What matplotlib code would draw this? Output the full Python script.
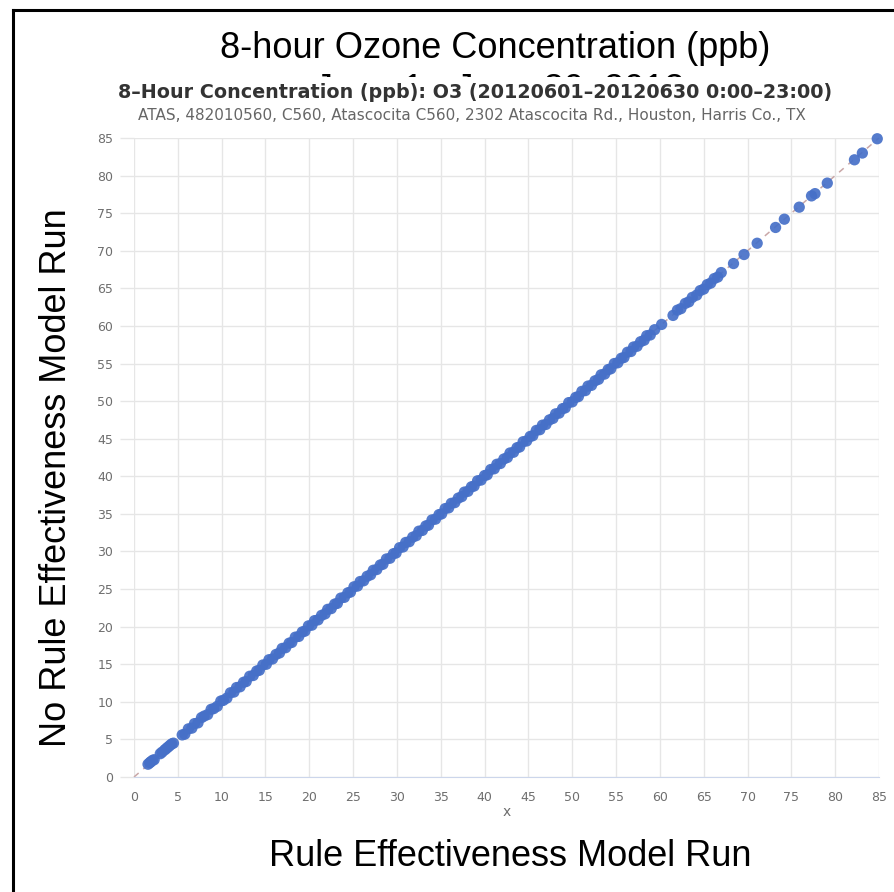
import matplotlib
matplotlib.use("Agg")
import matplotlib.pyplot as plt
from matplotlib.lines import Line2D
from matplotlib.patches import Rectangle

W, H = 895, 892

# chart values
title = "8-hour Ozone Concentration (ppb)"
hidden_line = "June 1 - June 30, 2012"
inner_title = "8\u2013Hour Concentration (ppb): O3 (20120601\u201320120630 0:00\u201323:00)"
inner_subtitle = "ATAS, 482010560, C560, Atascocita C560, 2302 Atascocita Rd., Houston, Harris Co., TX"
x_label = "Rule Effectiveness Model Run"
y_label = "No Rule Effectiveness Model Run"
ticks = list(range(0, 90, 5))

x_low = [1.6, 1.8, 1.9, 2.1, 2.3, 3.0, 3.2, 3.5, 3.7, 3.9, 4.1, 4.3, 4.5]
y_low = [1.7, 1.9, 2.0, 2.2, 2.3, 3.1, 3.3, 3.6, 3.8, 4.0, 4.2, 4.4, 4.5]

x_mid = [5.5, 5.8, 6.2, 6.6, 6.9, 7.3, 7.7, 8.0, 8.4, 8.8, 9.1, 9.5, 9.9, 10.2,
         10.6, 11.0, 11.4, 11.7, 12.1, 12.5, 12.8, 13.2, 13.6, 14.0, 14.3, 14.7,
         15.1, 15.4, 15.8, 16.2, 16.6, 16.9, 17.3, 17.7, 18.0, 18.4, 18.8, 19.2,
         19.5, 19.9, 20.3, 20.6, 21.0, 21.4, 21.8, 22.1, 22.5, 22.9, 23.2, 23.6,
         24.0, 24.4, 24.7, 25.1, 25.5, 25.8, 26.2, 26.6, 27.0, 27.3, 27.7, 28.1,
         28.4, 28.8, 29.2, 29.6, 29.9, 30.3, 30.7, 31.0, 31.4, 31.8, 32.2, 32.5,
         32.9, 33.3, 33.6, 34.0, 34.4, 34.8, 35.1, 35.5, 35.9, 36.2, 36.6, 37.0,
         37.4, 37.7, 38.1, 38.5, 38.8, 39.2, 39.6, 40.0, 40.3, 40.7, 41.1, 41.4,
         41.8, 42.2, 42.6, 42.9, 43.3, 43.7, 44.0, 44.4, 44.8, 45.2, 45.5, 45.9,
         46.3, 46.6, 47.0, 47.4, 47.8, 48.1, 48.5, 48.9, 49.2, 49.6, 50.0, 50.4,
         50.7, 51.1, 51.5, 51.8, 52.2, 52.6, 53.0, 53.3, 53.7, 54.1, 54.4, 54.8,
         55.2, 55.6, 55.9, 56.3, 56.7, 57.0, 57.4, 57.8, 58.2, 58.5, 58.9]
y_mid = [5.6, 5.7, 6.4, 6.5, 7.1, 7.2, 7.9, 8.1, 8.3, 9.0, 9.1, 9.4, 10.1, 10.2,
         10.5, 11.2, 11.3, 11.9, 12.0, 12.6, 12.7, 13.4, 13.5, 14.1, 14.2, 14.9,
         15.0, 15.6, 15.7, 16.3, 16.5, 17.1, 17.2, 17.8, 17.9, 18.6, 18.7, 19.3,
         19.4, 20.1, 20.2, 20.8, 20.9, 21.5, 21.7, 22.3, 22.4, 23.0, 23.1, 23.8,
         23.9, 24.5, 24.6, 25.3, 25.4, 26.0, 26.1, 26.7, 26.9, 27.5, 27.6, 28.2,
         28.3, 29.0, 29.1, 29.7, 29.8, 30.5, 30.6, 31.2, 31.3, 31.9, 32.1, 32.7,
         32.8, 33.4, 33.5, 34.2, 34.3, 34.9, 35.0, 35.7, 35.8, 36.4, 36.5, 37.1,
         37.3, 37.9, 38.0, 38.6, 38.7, 39.4, 39.5, 40.1, 40.2, 40.9, 41.0, 41.6,
         41.7, 42.3, 42.5, 43.1, 43.2, 43.8, 43.9, 44.6, 44.7, 45.3, 45.4, 46.1,
         46.2, 46.8, 46.9, 47.5, 47.7, 48.3, 48.4, 49.0, 49.1, 49.8, 49.9, 50.5,
         50.6, 51.3, 51.4, 52.0, 52.1, 52.7, 52.9, 53.5, 53.6, 54.2, 54.3, 55.0,
         55.1, 55.7, 55.8, 56.5, 56.6, 57.2, 57.3, 57.9, 58.1, 58.7, 58.8]

x_high = [59.4, 60.2, 61.5, 62.0, 62.4, 62.9, 63.3, 63.7, 64.2, 64.6, 65.0,
          65.4, 65.8, 66.2, 66.6, 67.0, 68.4, 69.6, 71.1, 73.2, 74.2, 75.9,
          77.3, 77.7, 79.1, 82.2, 83.1, 84.8]
y_high = [59.5, 60.2, 61.4, 62.1, 62.3, 63.0, 63.2, 63.8, 64.1, 64.7, 64.9,
          65.5, 65.7, 66.3, 66.5, 67.1, 68.3, 69.5, 71.0, 73.1, 74.2, 75.8,
          77.3, 77.6, 79.0, 82.1, 83.0, 84.9]

fig = plt.figure(figsize=(W / 100, H / 100), dpi=100)
fig.patch.set_facecolor("white")

# outer frame (top and left edges only are in view)
fig.add_artist(Line2D([13 / W, 1.0], [1 - 10 / H, 1 - 10 / H], color="black", lw=2.2))
fig.add_artist(Line2D([13 / W, 13 / W], [1 - 10 / H, 0.0], color="black", lw=2.2))

big = dict(family=["Liberation Sans", "DejaVu Sans"], size=26, color="black")
fig.text(495 / W, 1 - 58 / H, title, ha="center", va="baseline", **big)
fig.text(500 / W, 1 - 100 / H, hidden_line, ha="center", va="baseline", zorder=1, **big)
# the embedded chart covers most of the second title line
fig.add_artist(Rectangle((100 / W, 1 - 135 / H), 790 / W, 58 / H, transform=fig.transFigure,
                         facecolor="white", edgecolor="none", zorder=2))

fig.text(475 / W, 1 - 93 / H, inner_title, ha="center", va="center", zorder=3,
         family="DejaVu Sans", weight="bold", size=13.8, color="#333333")
fig.text(472 / W, 1 - 116 / H, inner_subtitle, ha="center", va="center", zorder=3,
         family="DejaVu Sans", size=11, color="#666666")

fig.text(510 / W, 1 - 857 / H, x_label, ha="center", va="center", **big)
fig.text(57 / W, 1 - 478 / H, y_label, ha="center", va="center", rotation=90, **big)

ax = fig.add_axes([134 / W, 1 - 777 / H, 745 / W, 639 / H], zorder=4)
ax.set_facecolor("none")
ax.set_xlim(0, 85)
ax.set_ylim(0, 85)
ax.set_xticks(ticks)
ax.set_yticks(ticks)
ax.grid(True, color="#e6e6e6", lw=1)
ax.set_axisbelow(True)
for side in ["top", "right", "left"]:
    ax.spines[side].set_visible(False)
ax.spines["bottom"].set_color("#ccd6eb")
ax.tick_params(axis="x", length=0, pad=10, labelsize=9, labelcolor="#6e6e6e")
ax.tick_params(axis="y", length=10, width=1, color="#e6e6e6", pad=5, labelsize=9,
               labelcolor="#6e6e6e")
for lab in ax.get_xticklabels() + ax.get_yticklabels():
    lab.set_family("DejaVu Sans")
ax.set_xlabel("x", fontsize=10, color="#6e6e6e", labelpad=1)

ax.plot([0, 85], [0, 85], ls=(0, (4, 4)), color="#c9a7a7", lw=1.1, zorder=2, clip_on=False)
for xs, ys in [(x_low, y_low), (x_mid, y_mid), (x_high, y_high)]:
    ax.scatter(xs, ys, s=66, color="#4670c8", alpha=0.92, edgecolors="none",
               zorder=3, clip_on=False)

fig.savefig("out.png", dpi=100)
